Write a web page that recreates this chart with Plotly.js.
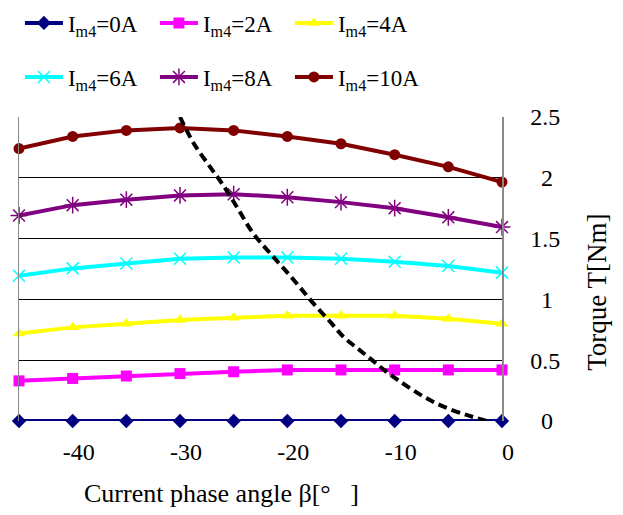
<!DOCTYPE html>
<html>
<head>
<meta charset="utf-8">
<script src="https://cdn.plot.ly/plotly-3.0.1.min.js"></script>
<style>html,body{margin:0;padding:0;background:#fff;}</style>
</head>
<body>
<div id="chart" style="width:623px;height:515px;"></div>
<script>
// Data
const beta = [-45, -40, -35, -30, -25, -20, -15, -10, -5, 0];
const torque0A  = [0, 0, 0, 0, 0, 0, 0, 0, 0, 0];
const torque2A  = [0.33, 0.35, 0.37, 0.39, 0.405, 0.42, 0.42, 0.42, 0.42, 0.42];
const torque4A  = [0.72, 0.77, 0.80, 0.83, 0.85, 0.865, 0.865, 0.865, 0.84, 0.80];
const torque6A  = [1.195, 1.255, 1.295, 1.335, 1.345, 1.345, 1.335, 1.31, 1.275, 1.22];
const torque8A  = [1.69, 1.775, 1.82, 1.855, 1.865, 1.84, 1.80, 1.75, 1.675, 1.595];
const torque10A = [2.24, 2.34, 2.39, 2.41, 2.39, 2.34, 2.28, 2.19, 2.09, 1.965];
const traceNames = ['I<sub>m4</sub>=0A','I<sub>m4</sub>=2A','I<sub>m4</sub>=4A','I<sub>m4</sub>=6A','I<sub>m4</sub>=8A','I<sub>m4</sub>=10A'];
// dashed trajectory
const dashBeta   = [-30, -28.7, -27.2, -26.1, -24.7, -23.2, -21.3, -19.4, -17.7, -16.0, -14.8, -13.5, -12.3, -11.0, -9.5, -7.3, -5.5, -3.3, -1.4];
const dashTorque = [2.50, 2.28, 2.09, 1.955, 1.76, 1.545, 1.35, 1.16, 0.98, 0.815, 0.695, 0.60, 0.515, 0.42, 0.325, 0.20, 0.12, 0.05, 0.0];
const xTickVals = [-40, -30, -20, -10, 0];
const xTickText = ['-40', '-30', '-20', '-10', '0'];
const yTickVals = [0, 0.5, 1, 1.5, 2, 2.5];
const yTickText = ['\u00a0\u2009' + '0', '0.5', '\u00a0\u2009' + '1', '1.5', '\u00a0\u2009' + '2', '2.5'];
const xTitle = 'Current phase angle β[°\u00a0\u00a0\u00a0]';
const yTitle = 'Torque T[Nm]';

const FONT = 'Liberation Serif, Times New Roman, serif';
const series = [torque0A, torque2A, torque4A, torque6A, torque8A, torque10A];
const colors = ['#000080', '#ff00ff', '#ffff00', '#00ffff', '#800080', '#800000'];
const symbols = ['diamond', 'square', 'triangle-up', 'x-thin-open', 'asterisk-open', 'circle'];
const sizes = [11, 11, 11, 12, 14, 11];
const legends = ['legend', 'legend', 'legend', 'legend2', 'legend2', 'legend2'];

const traces = series.map((ys, i) => ({
  x: beta, y: ys, type: 'scatter', mode: 'lines+markers',
  name: traceNames[i], legend: legends[i],
  line: {color: colors[i], width: 4},
  marker: {color: colors[i], symbol: symbols[i], size: sizes[i], line: {color: colors[i], width: (i === 3 || i === 4) ? 1.5 : 0}},
  cliponaxis: false
}));
traces.push({
  x: dashBeta, y: dashTorque, type: 'scatter', mode: 'lines',
  line: {color: '#000', width: 4, dash: '9px,5px', shape: 'spline'},
  showlegend: false, cliponaxis: false
});

const legendCommon = {
  orientation: 'h', xref: 'container', yref: 'container',
  xanchor: 'left', yanchor: 'middle',
  font: {family: FONT, size: 23, color: '#000'},
  entrywidth: 82, itemwidth: 38, bgcolor: 'rgba(0,0,0,0)', traceorder: 'normal'
};

const layout = {
  width: 623, height: 515,
  margin: {l: 19, r: 121, t: 117, b: 94},
  paper_bgcolor: '#fff', plot_bgcolor: '#fff',
  font: {family: FONT, size: 24, color: '#000'},
  showlegend: true,
  xaxis: {
    range: [-45, 0], tickvals: xTickVals, ticktext: xTickText, showgrid: false, zeroline: false,
    showline: false, ticks: '', ticklabelstandoff: 14, ticklabelshift: 6,
    tickfont: {family: FONT, size: 24, color: '#000'}
  },
  yaxis: {
    side: 'right', range: [0, 2.5], tickvals: yTickVals, ticktext: yTickText,
    showgrid: true, gridcolor: '#000', gridwidth: 1, zeroline: false,
    showline: true, linecolor: '#8a8a8a', linewidth: 1.5, mirror: true,
    ticks: '', ticklabelstandoff: 22,
    tickfont: {family: FONT, size: 24, color: '#000'}
  },
  annotations: [
    {text: xTitle, xref: 'paper', yref: 'paper', x: (222 - 19) / 484, y: (421 - 493) / 304,
     xanchor: 'center', yanchor: 'middle', showarrow: false, font: {family: FONT, size: 26, color: '#000'}},
    {text: yTitle, xref: 'paper', yref: 'paper', x: (598 - 19) / 484, y: (421 - 292) / 304,
     xanchor: 'center', yanchor: 'middle', textangle: -90, showarrow: false, font: {family: FONT, size: 27, color: '#000'}}
  ],
  legend: Object.assign({}, legendCommon, {x: 0.032, y: 1 - 23 / 515}),
  legend2: Object.assign({}, legendCommon, {x: 0.032, y: 1 - 77 / 515})
};

Plotly.newPlot('chart', traces, layout, {displayModeBar: false, staticPlot: true});
</script>
</body>
</html>
